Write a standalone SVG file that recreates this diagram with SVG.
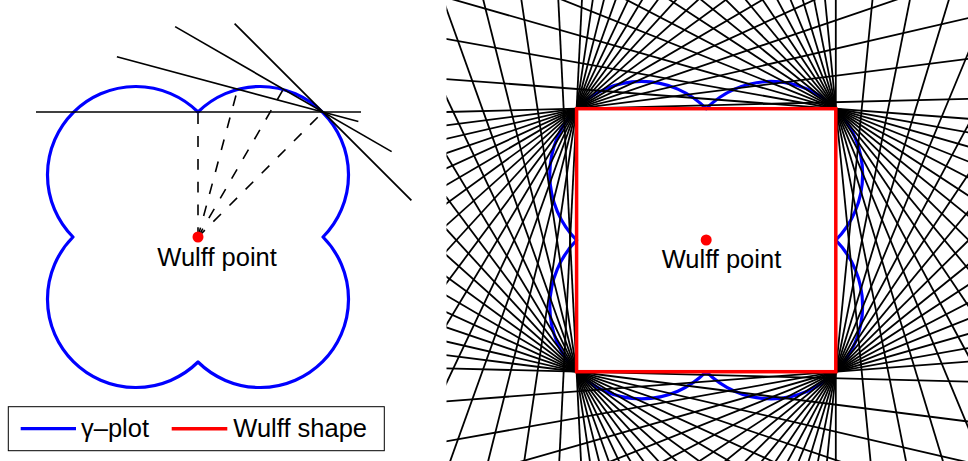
<svg xmlns="http://www.w3.org/2000/svg" width="968" height="461" viewBox="0 0 968 461">
<style>
.gam{fill:none;stroke:#0000ff;stroke-width:3.2;stroke-linejoin:round}
.wl{stroke:#000;stroke-width:1.7;fill:none}
.dl{stroke:#000;stroke-width:1.6;fill:none;stroke-dasharray:10.8 12;stroke-dashoffset:1.1}
.rl line{stroke:#000;stroke-width:1.8;vector-effect:non-scaling-stroke}
.txt{font-family:"Liberation Sans",Arial,Helvetica,sans-serif;font-size:25.5px;fill:#000}
.dot{fill:#ff0000}
</style>
<defs>
<clipPath id="rclip" clipPathUnits="userSpaceOnUse"><rect x="446.5" y="0" width="521.5" height="461"/></clipPath>
</defs>
<rect width="968" height="461" fill="#fff"/>

<g id="left-panel">
<path class="gam" d="M198,112 A88.39,88.39 0 0 1 323,237 A88.39,88.39 0 0 1 198,362 A88.39,88.39 0 0 1 73,237 A88.39,88.39 0 0 1 198,112 Z"/>
<g id="left-connectors">
<line class="wl" x1="36" y1="112" x2="361" y2="112"/>
<line class="wl" x1="116.88" y1="56.77" x2="358.37" y2="121.48"/>
<line class="wl" x1="175.12" y1="26.62" x2="391.63" y2="151.62"/>
<line class="wl" x1="234.61" y1="23.61" x2="411.39" y2="200.39"/>
<line class="dl" x1="198" y1="237" x2="198" y2="112"/>
<line class="dl" x1="198" y1="237" x2="237.62" y2="89.12"/>
<line class="dl" x1="198" y1="237" x2="283.38" y2="89.12"/>
<line class="dl" x1="198" y1="237" x2="323" y2="112"/>
</g>
<g id="left-wulff-point">
<circle class="dot" cx="198" cy="237" r="5.5"/>
<text class="txt" x="157.3" y="265.7">Wulff point</text>
</g>
</g>

<g id="right-panel">
<path class="gam" d="M706.2,108.7 A91.64,92.98 0 0 1 835.8,240.2 A91.64,92.98 0 0 1 706.2,371.7 A91.64,92.98 0 0 1 576.6,240.2 A91.64,92.98 0 0 1 706.2,108.7 Z"/>
<g id="right-connectors" clip-path="url(#rclip)">
<g class="rl" transform="translate(706.2,240.2) scale(129.6,-131.5)">
<line y1="-5" y2="5" transform="translate(1,1) rotate(0)"/>
<line y1="-5" y2="5" transform="translate(1,1) rotate(5.714)"/>
<line y1="-5" y2="5" transform="translate(1,1) rotate(11.429)"/>
<line y1="-5" y2="5" transform="translate(1,1) rotate(17.143)"/>
<line y1="-5" y2="5" transform="translate(1,1) rotate(22.857)"/>
<line y1="-5" y2="5" transform="translate(1,1) rotate(28.571)"/>
<line y1="-5" y2="5" transform="translate(1,1) rotate(34.286)"/>
<line y1="-5" y2="5" transform="translate(1,1) rotate(40)"/>
<line y1="-5" y2="5" transform="translate(1,1) rotate(45.714)"/>
<line y1="-5" y2="5" transform="translate(1,1) rotate(51.429)"/>
<line y1="-5" y2="5" transform="translate(1,1) rotate(57.143)"/>
<line y1="-5" y2="5" transform="translate(1,1) rotate(62.857)"/>
<line y1="-5" y2="5" transform="translate(1,1) rotate(68.571)"/>
<line y1="-5" y2="5" transform="translate(1,1) rotate(74.286)"/>
<line y1="-5" y2="5" transform="translate(1,1) rotate(80)"/>
<line y1="-5" y2="5" transform="translate(1,1) rotate(85.714)"/>
<line y1="-5" y2="5" transform="translate(-1,1) rotate(91.429)"/>
<line y1="-5" y2="5" transform="translate(-1,1) rotate(97.143)"/>
<line y1="-5" y2="5" transform="translate(-1,1) rotate(102.857)"/>
<line y1="-5" y2="5" transform="translate(-1,1) rotate(108.571)"/>
<line y1="-5" y2="5" transform="translate(-1,1) rotate(114.286)"/>
<line y1="-5" y2="5" transform="translate(-1,1) rotate(120)"/>
<line y1="-5" y2="5" transform="translate(-1,1) rotate(125.714)"/>
<line y1="-5" y2="5" transform="translate(-1,1) rotate(131.429)"/>
<line y1="-5" y2="5" transform="translate(-1,1) rotate(137.143)"/>
<line y1="-5" y2="5" transform="translate(-1,1) rotate(142.857)"/>
<line y1="-5" y2="5" transform="translate(-1,1) rotate(148.571)"/>
<line y1="-5" y2="5" transform="translate(-1,1) rotate(154.286)"/>
<line y1="-5" y2="5" transform="translate(-1,1) rotate(160)"/>
<line y1="-5" y2="5" transform="translate(-1,1) rotate(165.714)"/>
<line y1="-5" y2="5" transform="translate(-1,1) rotate(171.429)"/>
<line y1="-5" y2="5" transform="translate(-1,1) rotate(177.143)"/>
<line y1="-5" y2="5" transform="translate(-1,-1) rotate(182.857)"/>
<line y1="-5" y2="5" transform="translate(-1,-1) rotate(188.571)"/>
<line y1="-5" y2="5" transform="translate(-1,-1) rotate(194.286)"/>
<line y1="-5" y2="5" transform="translate(-1,-1) rotate(200)"/>
<line y1="-5" y2="5" transform="translate(-1,-1) rotate(205.714)"/>
<line y1="-5" y2="5" transform="translate(-1,-1) rotate(211.429)"/>
<line y1="-5" y2="5" transform="translate(-1,-1) rotate(217.143)"/>
<line y1="-5" y2="5" transform="translate(-1,-1) rotate(222.857)"/>
<line y1="-5" y2="5" transform="translate(-1,-1) rotate(228.571)"/>
<line y1="-5" y2="5" transform="translate(-1,-1) rotate(234.286)"/>
<line y1="-5" y2="5" transform="translate(-1,-1) rotate(240)"/>
<line y1="-5" y2="5" transform="translate(-1,-1) rotate(245.714)"/>
<line y1="-5" y2="5" transform="translate(-1,-1) rotate(251.429)"/>
<line y1="-5" y2="5" transform="translate(-1,-1) rotate(257.143)"/>
<line y1="-5" y2="5" transform="translate(-1,-1) rotate(262.857)"/>
<line y1="-5" y2="5" transform="translate(-1,-1) rotate(268.571)"/>
<line y1="-5" y2="5" transform="translate(1,-1) rotate(274.286)"/>
<line y1="-5" y2="5" transform="translate(1,-1) rotate(280)"/>
<line y1="-5" y2="5" transform="translate(1,-1) rotate(285.714)"/>
<line y1="-5" y2="5" transform="translate(1,-1) rotate(291.429)"/>
<line y1="-5" y2="5" transform="translate(1,-1) rotate(297.143)"/>
<line y1="-5" y2="5" transform="translate(1,-1) rotate(302.857)"/>
<line y1="-5" y2="5" transform="translate(1,-1) rotate(308.571)"/>
<line y1="-5" y2="5" transform="translate(1,-1) rotate(314.286)"/>
<line y1="-5" y2="5" transform="translate(1,-1) rotate(320)"/>
<line y1="-5" y2="5" transform="translate(1,-1) rotate(325.714)"/>
<line y1="-5" y2="5" transform="translate(1,-1) rotate(331.429)"/>
<line y1="-5" y2="5" transform="translate(1,-1) rotate(337.143)"/>
<line y1="-5" y2="5" transform="translate(1,-1) rotate(342.857)"/>
<line y1="-5" y2="5" transform="translate(1,-1) rotate(348.571)"/>
<line y1="-5" y2="5" transform="translate(1,-1) rotate(354.286)"/>
</g>
</g>
<g id="wulff-shape">
<rect x="576.6" y="108.7" width="259.2" height="263" fill="none" stroke="#ff0000" stroke-width="3.5"/>
</g>
<g id="right-wulff-point">
<circle class="dot" cx="706.2" cy="240" r="5.5"/>
<text class="txt" x="661.7" y="268.3">Wulff point</text>
</g>
</g>

<g id="legend">
<rect x="8.3" y="406.7" width="376" height="44" fill="#fff" stroke="#000" stroke-width="1"/>
<line x1="20.7" y1="428.7" x2="76" y2="428.7" stroke="#0000ff" stroke-width="3.2"/>
<text class="txt" x="81" y="437">γ–plot</text>
<line x1="171.7" y1="428.7" x2="227.3" y2="428.7" stroke="#ff0000" stroke-width="3.5"/>
<text class="txt" x="233.3" y="437">Wulff shape</text>
</g>
</svg>
